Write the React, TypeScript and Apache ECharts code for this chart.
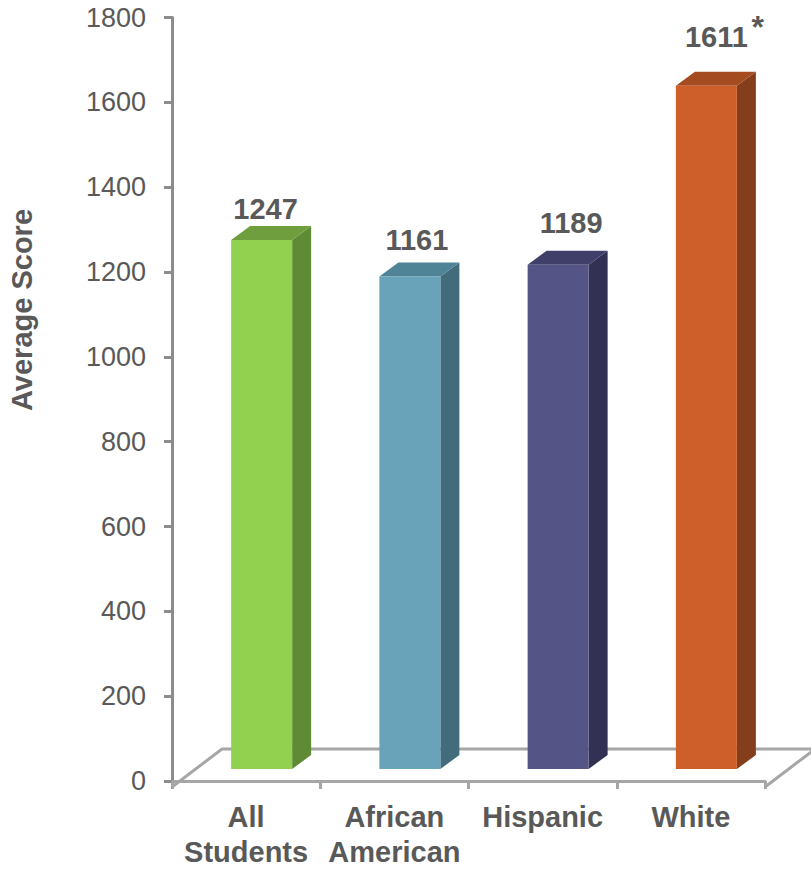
import React, { useEffect, useRef } from "react";
import * as echarts from "echarts";

const categories = ["All\nStudents", "African\nAmerican", "Hispanic", "White"];
const scores = [1247, 1161, 1189, 1611];
const scoreMarks = ["", "", "", "*"];
const yMin = 0;
const yMax = 1800;
const yStep = 200;
const yAxisTitle = "Average Score";

const frontColors = ["#92d050", "#68a3ba", "#545486", "#cf5f2a"];
const sideColors = ["#5f8b34", "#426b7b", "#323153", "#843e1c"];
const topColors = ["#6e9e3e", "#4f8396", "#403f69", "#a54b20"];
// label nudges [dx, lift] relative to the bar's top face
const labelNudge = [
  [4, 17],
  [7, 23],
  [13, 28],
  [10, 35],
];

const FONT = "'Liberation Sans', Arial, sans-serif";
const TEXT = "#595959";

export default function App() {
  const ref = useRef<HTMLDivElement>(null);
  useEffect(() => {
    if (!ref.current) return;
    const chart = echarts.init(ref.current, undefined, { renderer: "svg" });
    const hw = 30.5;
    const lift = 12;
    const shift = 15.5;
    const ddx = 19;
    const ddy = 14;
    chart.setOption({
      animation: false,
      grid: { left: 172, right: 46, top: 17.5, bottom: 82 },
      graphic: [
        {
          type: "polyline",
          z: 0,
          shape: { points: [[172, 787], [222, 749], [820, 749]] },
          style: { stroke: "#a6a6a6", lineWidth: 3, fill: null },
        },
        {
          type: "line",
          z: 0,
          shape: { x1: 765, y1: 787, x2: 815, y2: 749 },
          style: { stroke: "#a6a6a6", lineWidth: 3 },
        },
        {
          type: "text",
          x: 22,
          y: 310,
          rotation: Math.PI / 2,
          style: {
            text: yAxisTitle,
            align: "center",
            verticalAlign: "middle",
            fontSize: 29,
            fontWeight: "bold",
            fontFamily: FONT,
            fill: TEXT,
          },
        },
      ],
      xAxis: {
        type: "category",
        data: categories,
        axisLine: { lineStyle: { color: "#a6a6a6", width: 3 } },
        axisTick: { show: true, length: 8, lineStyle: { color: "#a6a6a6", width: 3 } },
        axisLabel: {
          interval: 0,
          margin: 18,
          fontSize: 29,
          fontWeight: "bold",
          fontFamily: FONT,
          color: TEXT,
          lineHeight: 35,
        },
      },
      yAxis: {
        type: "value",
        min: yMin,
        max: yMax,
        interval: yStep,
        axisLine: { show: true, lineStyle: { color: "#8c8c8c", width: 3 } },
        axisTick: { show: true, length: 8, lineStyle: { color: "#8c8c8c", width: 3 } },
        splitLine: { show: false },
        axisLabel: {
          margin: 26,
          fontSize: 27,
          fontFamily: FONT,
          color: TEXT,
          formatter: (v: number) => String(v),
        },
      },
      series: [
        {
          type: "custom",
          data: scores.map((v, i) => [i, v]),
          renderItem: (params: any, api: any) => {
            const idx = api.value(0);
            const v = api.value(1);
            const b = api.coord([idx, 0]);
            const t = api.coord([idx, v]);
            const fx = b[0] + shift;
            const yb = b[1] - lift;
            const yt = t[1] - lift;
            const L = fx - hw;
            const R = fx + hw;
            const nudge = labelNudge[idx];
            const lx = fx + nudge[0];
            const ly = yt - ddy - nudge[1];
            const children: any[] = [
              {
                type: "polygon",
                shape: { points: [[R, yt], [R + ddx, yt - ddy], [R + ddx, yb - ddy], [R, yb]] },
                style: { fill: sideColors[idx] },
              },
              {
                type: "polygon",
                shape: { points: [[L, yt], [L + ddx, yt - ddy], [R + ddx, yt - ddy], [R, yt]] },
                style: { fill: topColors[idx] },
              },
              {
                type: "rect",
                shape: { x: L, y: yt, width: 2 * hw, height: yb - yt },
                style: { fill: frontColors[idx] },
              },
              {
                type: "text",
                style: {
                  text: String(v),
                  x: lx,
                  y: ly,
                  align: "center",
                  verticalAlign: "middle",
                  fontSize: 29,
                  fontWeight: "bold",
                  fontFamily: FONT,
                  fill: TEXT,
                },
              },
            ];
            if (scoreMarks[idx]) {
              children.push({
                type: "text",
                style: {
                  text: scoreMarks[idx],
                  x: lx + 35,
                  y: ly - 10,
                  align: "left",
                  verticalAlign: "middle",
                  fontSize: 32,
                  fontWeight: "bold",
                  fontFamily: FONT,
                  fill: TEXT,
                },
              });
            }
            return { type: "group", children };
          },
        },
      ],
    });
    return () => chart.dispose();
  }, []);
  return (
    <div
      ref={ref}
      style={{ position: "fixed", left: 0, top: 0, width: 811, height: 869, background: "#fff" }}
    />
  );
}
